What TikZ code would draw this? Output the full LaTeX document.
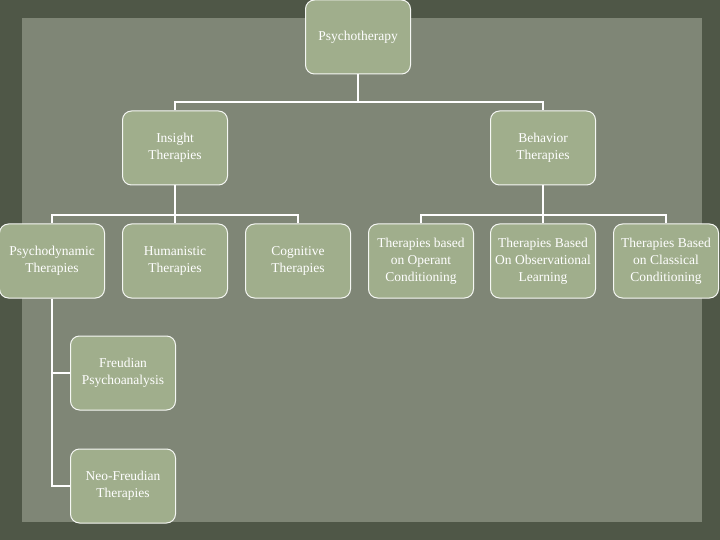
\documentclass[tikz,border=0pt]{standalone}
\usepackage{fontspec}
\setmainfont{Liberation Serif}
\definecolor{boxgreen}{HTML}{A0AE8C}
\definecolor{slate}{HTML}{7F8676}
\definecolor{rim}{HTML}{4F5747}
\tikzset{
  therapy/.style={draw=white!90!boxgreen, line width=1pt, fill=boxgreen, rounded corners=9pt,
    minimum width=105pt, minimum height=74pt, inner sep=2pt, text=white, align=center,
    font=\fontsize{13.5}{17}\selectfont},
  link/.style={draw=white, line width=1.6pt}
}
\begin{document}
\begin{tikzpicture}[x=1pt,y=-1pt]
  % background
  \fill[rim] (0,0) rectangle (720,540);
  \fill[slate] (22,18) rectangle (702,522);
  \useasboundingbox (0,0) rectangle (720,540);
  % top levels
  \node[therapy] (psy) at (358,37) {Psychotherapy};
  \node[therapy] (ins) at (175,148) {Insight\\Therapies};
  \node[therapy] (beh) at (543,148) {Behavior\\Therapies};
  % third row
  \node[therapy] (dyn) at (52,261) {Psychodynamic\\Therapies};
  \node[therapy] (hum) at (175,261) {Humanistic\\Therapies};
  \node[therapy] (cog) at (298,261) {Cognitive\\Therapies};
  \node[therapy] (ope) at (421,261) {Therapies based\\on Operant\\Conditioning};
  \node[therapy] (obs) at (543,261) {Therapies Based\\On Observational\\Learning};
  \node[therapy] (cla) at (666,261) {Therapies Based\\on Classical\\Conditioning};
  % under psychodynamic
  \node[therapy] (fre) at (123,373) {Freudian\\Psychoanalysis};
  \node[therapy] (neo) at (123,486) {Neo-Freudian\\Therapies};
  % connectors
  \coordinate (j0) at (358,102);
  \coordinate (j1) at (175,215);
  \coordinate (j2) at (543,215);
  \draw[link] (psy.south) -- (j0);
  \draw[link] (ins.north) |- (j0) -| (beh.north);
  \draw[link] (ins.south) -- (j1);
  \draw[link] (dyn.north) |- (j1) -| (cog.north);
  \draw[link] (hum.north) -- (j1);
  \draw[link] (beh.south) -- (j2);
  \draw[link] (ope.north) |- (j2) -| (cla.north);
  \draw[link] (obs.north) -- (j2);
  \draw[link] (dyn.south) |- (neo.west);
  \draw[link] (dyn.south) |- (fre.west);
\end{tikzpicture}
\end{document}
